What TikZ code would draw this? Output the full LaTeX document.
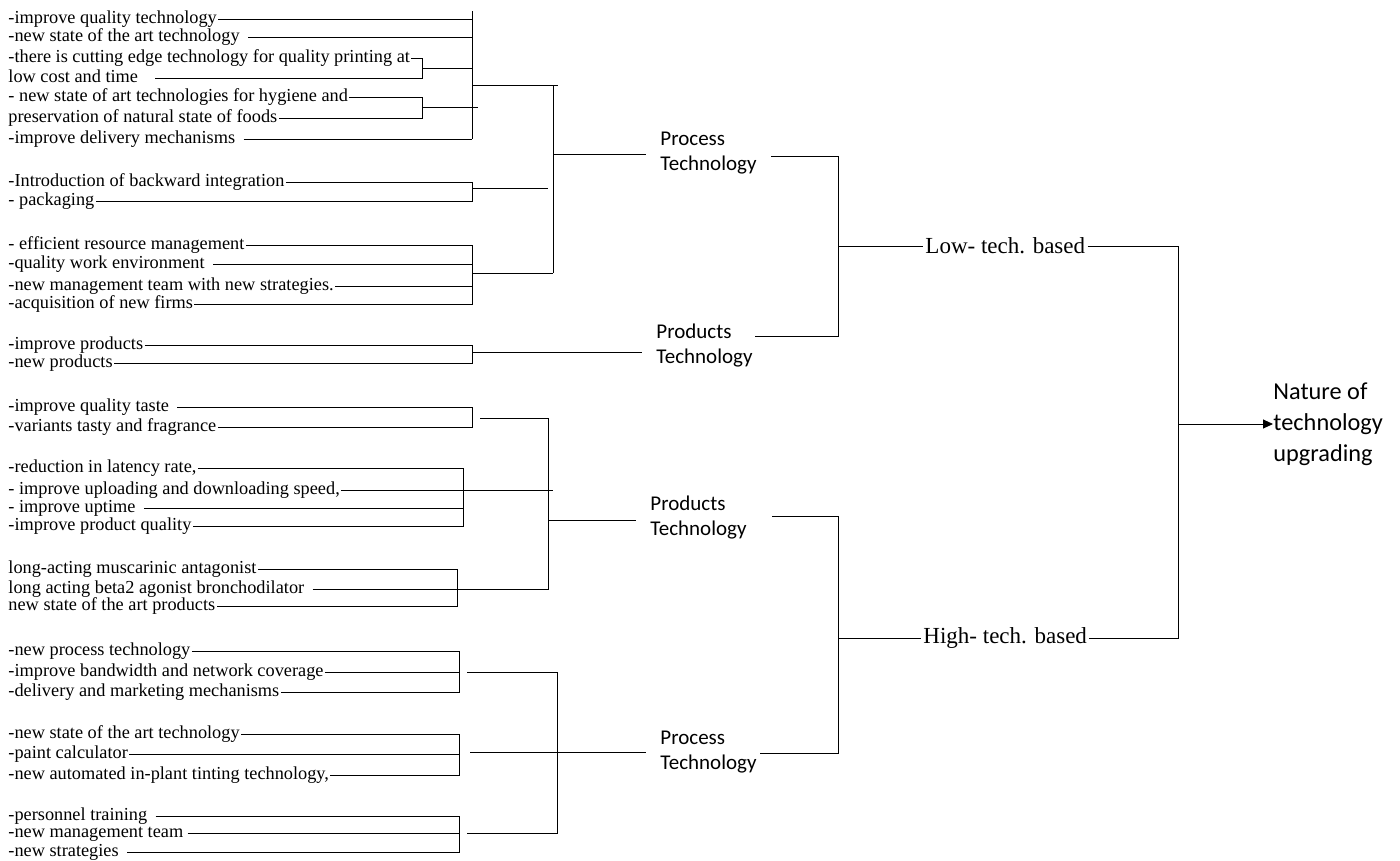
\documentclass[tikz,border=0pt]{standalone}
\usepackage{fontspec}
\setmainfont{Liberation Serif}
\newfontfamily\calfont{Carlito}
\usetikzlibrary{arrows.meta}

% trailing blank before a leader line
\newcommand{\lgap}[1][7pt]{\kern#1\relax}

\tikzset{
  item/.style={anchor=west, inner sep=1pt, text height=12.5pt, text depth=4pt,
    font=\fontsize{18.3}{20}\selectfont},
  tech/.style={anchor=west, align=left, inner xsep=14pt, inner ysep=0pt,
    font=\calfont\fontsize{21}{25}\selectfont},
  level/.style={anchor=west, inner sep=2pt, font=\fontsize{23}{27}\selectfont},
}

\begin{document}
\begin{tikzpicture}[x=1pt,y=-1pt,>={Triangle[length=10pt,width=9pt]},line width=0.9pt]
  \useasboundingbox (0,0) rectangle (1400,860);

  % bracket columns
  \coordinate (xa) at (472,0);
  \coordinate (xb) at (422,0);
  \coordinate (xf) at (463,0);
  \coordinate (xg) at (457,0);
  \coordinate (xh) at (459,0);

  % low-tech, process technology
  \node[item] (a1) at (7,19)  {-improve quality technology};
  \node[item] (a2) at (7,37)  {-new state of the art technology\lgap};
  \node[item] (a3) at (7,58)  {-there is cutting edge technology for quality printing at};
  \node[item] (a4) at (7,78)  {low cost and time\lgap[15pt]};
  \node[item] (a5) at (7,97)  {- new state of art technologies for hygiene and};
  \node[item] (a6) at (7,118) {preservation of natural state of foods};
  \node[item] (a7) at (7,139) {-improve delivery mechanisms\lgap};

  \node[item] (b1) at (7,182) {-Introduction of backward integration};
  \node[item] (b2) at (7,201) {- packaging};

  \node[item] (c1) at (7,245) {- efficient resource management};
  \node[item] (c2) at (7,264) {-quality work environment\lgap};
  \node[item] (c3) at (7,286) {-new management team with new strategies.};
  \node[item] (c4) at (7,304) {-acquisition of new firms};

  % low-tech, products technology
  \node[item] (d1) at (7,345) {-improve products};
  \node[item] (d2) at (7,363) {-new products};

  % high-tech, products technology
  \node[item] (e1) at (7,407) {-improve quality taste\lgap};
  \node[item] (e2) at (7,427) {-variants tasty and fragrance};

  \node[item] (f1) at (7,468) {-reduction in latency rate,};
  \node[item] (f2) at (7,490) {- improve uploading and downloading speed,};
  \node[item] (f3) at (7,508) {- improve uptime\lgap};
  \node[item] (f4) at (7,526) {-improve product quality};

  \node[item] (g1) at (7,569) {long-acting muscarinic antagonist};
  \node[item] (g2) at (7,589) {long acting beta2 agonist bronchodilator\lgap};
  \node[item] (g3) at (7,606) {new state of the art products};

  % high-tech, process technology
  \node[item] (h1) at (7,651) {-new process technology};
  \node[item] (h2) at (7,672) {-improve bandwidth and network coverage};
  \node[item] (h3) at (7,692) {-delivery and marketing mechanisms};

  \node[item] (i1) at (7,734) {-new state of the art technology};
  \node[item] (i2) at (7,754) {-paint calculator};
  \node[item] (i3) at (7,775) {-new automated in-plant tinting technology,};

  \node[item] (j1) at (7,816) {-personnel training\lgap};
  \node[item] (j2) at (7,833) {-new management team\lgap[3pt]};
  \node[item] (j3) at (7,852) {-new strategies\lgap};

  % middle labels
  \node[tech] (pt1) at (646,153) {Process\\Technology};
  \node[tech] (pp1) at (642,346) {Products\\Technology};
  \node[tech] (pp2) at (636,518) {Products\\Technology};
  \node[tech] (pt2) at (646,752) {Process\\Technology};

  \node[level] (low)  at (923,246) {Low- tech. based};
  \node[level] (high) at (921,638) {High- tech. based};

  \node[anchor=west, align=left, inner sep=0pt, font=\calfont\fontsize{24.3}{31}\selectfont]
    (nat) at (1273,424) {Nature of\\technology\\upgrading};

  % group a
  \foreach \n in {a1,a2,a7} \draw (\n.east) -- (\n -| xa);
  \draw (a3.east) -- (a3 -| xb) -- (a4 -| xb) -- (a4.east);
  \draw (a5.east) -- (a5 -| xb) -- (a6 -| xb) -- (a6.east);
  \draw (422,68) -- (472,68);
  \draw (422,107) -- (478,107);
  \draw (472,11) -- (472,139);
  \draw (472,85) -- (558,85);

  % group b, c
  \draw (b1.east) -- (b1 -| xa) -- (b2 -| xa) -- (b2.east);
  \draw (472,188) -- (548,188);
  \draw (c1.east) -- (c1 -| xa) -- (c4 -| xa) -- (c4.east);
  \foreach \n in {c2,c3} \draw (\n.east) -- (\n -| xa);
  \draw (472,273) -- (553,273);
  \draw (553,85) -- (553,273);
  \coordinate (jp1) at (553,154);
  \draw (jp1) -- (jp1 -| pt1.west);

  % group d
  \draw (d1.east) -- (d1 -| xa) -- (d2 -| xa) -- (d2.east);
  \coordinate (jd) at (472,352);
  \draw (jd) -- (jd -| pp1.west);

  % group e, f, g
  \draw (e1.east) -- (e1 -| xa) -- (e2 -| xa) -- (e2.east);
  \draw (f1.east) -- (f1 -| xf) -- (f4 -| xf) -- (f4.east);
  \draw (f3.east) -- (f3 -| xf);
  \draw (f2.east) -- (553,490);
  \draw (g1.east) -- (g1 -| xg) -- (g3 -| xg) -- (g3.east);
  \draw (g2.east) -- (548,589) -- (548,418) -- (480,418);
  \coordinate (jp2) at (548,520);
  \draw (jp2) -- (jp2 -| pp2.west);

  % group h, i, j
  \draw (h1.east) -- (h1 -| xh) -- (h3 -| xh) -- (h3.east);
  \draw (h2.east) -- (h2 -| xh);
  \draw (i1.east) -- (i1 -| xh) -- (i3 -| xh) -- (i3.east);
  \draw (i2.east) -- (i2 -| xh);
  \draw (j1.east) -- (j1 -| xh) -- (j3 -| xh) -- (j3.east);
  \draw (j2.east) -- (j2 -| xh);
  \draw (467,672) -- (557,672) -- (557,833) -- (467,833);
  \coordinate (jp3) at (470,752);
  \draw (jp3) -- (jp3 -| pt2.west);

  % tech level brackets
  \coordinate (lt1) at (838,156);
  \coordinate (lt2) at (838,336);
  \draw (lt1 -| pt1.east) -- (lt1) -- (lt2) -- (755,336);
  \draw (838,246) -- (low.west);
  \coordinate (ht1) at (838,516);
  \coordinate (ht2) at (838,753);
  \draw (772,516) -- (ht1) -- (ht2) -- (760,753);
  \draw (838,638) -- (high.west);

  % result
  \coordinate (n1) at (1178,246);
  \coordinate (n2) at (1178,638);
  \draw (low.east) -- (n1) -- (n2) -- (high.east);
  \draw[->] (1178,424) -- (nat.west);
\end{tikzpicture}
\end{document}
